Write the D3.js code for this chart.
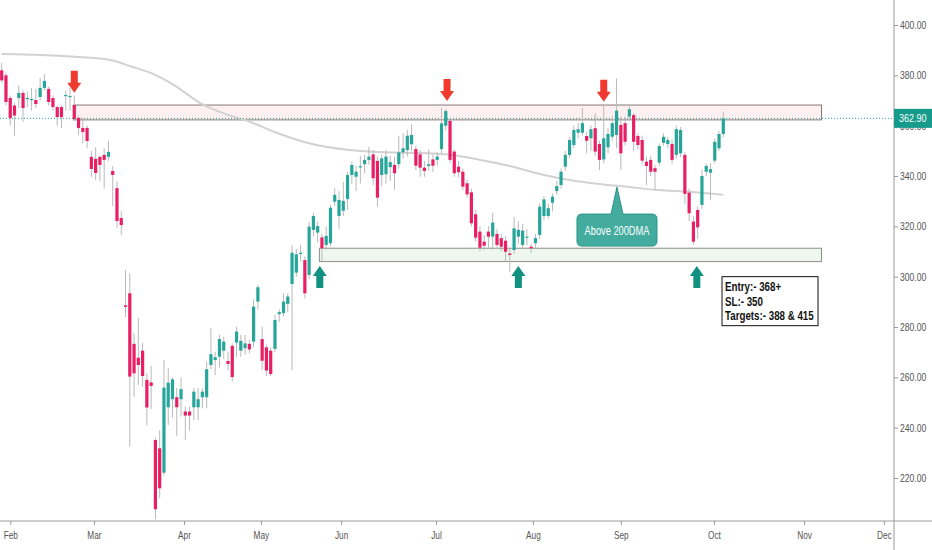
<!DOCTYPE html>
<html>
<head>
<meta charset="utf-8">
<script src="https://cdn.jsdelivr.net/npm/d3@7"></script>
<style>
body{margin:0;background:#fff;}
svg{display:block;}
.axis text{font-family:"Liberation Sans",Arial,sans-serif;font-size:11px;fill:#555;}
.axis line{stroke:#9a9a9a;}
</style>
</head>
<body>
<svg id="chart"></svg>
<script>
// daily candles, [open, high, low, close], bar index = position in the list
var candles = [
  // late Jan / Feb
  [382,385,377,378],[380,381,368,369.4],[371,372,360,363],[368,369,356,364],[371,376,367,373],
  [373,374,361.5,367],[370.6,373.4,367.4,371],[370.2,375,366,370.6],[370.2,374.6,367,368.6],[371.4,379,370,375],
  [375,380.5,374,377.8],[374.6,375.5,368,369.4],[371,372,366,367.4],[367.4,368,360,363.4],[367.4,368,359,363.4],
  [371.8,374,366,372.2],[371.4,375,366,371.8],[368.2,372,362,362.7],[363.1,364,356.3,359.1],[359.1,363,353,357.5],
  [359.1,360,351,353.9],
  // Mar
  [347.6,350,339.7,342.8],[346.8,351.5,338.4,341.2],[347.6,348,338,344.4],[348.4,351,335,346.4],[347.6,354,346,349.6],
  [342,344,328,340.4],[335.2,338,319.3,322.1],[323.3,326,316.5,320.5],[288.6,302.7,284,288],[293.4,301.3,232.5,260.3],
  [273.3,277.5,252.3,261.6],[267.8,283.5,257,264.9],[270.6,273.7,256.3,260.5],[259,261.7,241,248],[258,264.5,247.4,256.6],
  [235.1,236,203.6,207.6],[231.8,239,212,215.9],[222.1,266.9,221,255.9],[248.1,263.6,241,257.9],[251.3,260,244,259.2],
  [252.1,255.7,236.8,248.1],[251.3,260,244.4,255.3],
  // Apr
  [246.4,248.4,235.1,244.8],[246.4,248.4,238.8,244.8],[248.1,255.7,243.1,254.3],[248.1,255.7,243,251.3],[252.1,255.7,247.7,254.3],
  [252.1,266.2,247.7,263.2],[264.9,279.5,263.2,269.2],[266.9,270.2,260.9,268],[268.2,276.8,264,275.2],[270.6,276.2,267.2,274.2],
  [266.5,270.2,262.9,265.3],[272.5,273.5,258.3,260.1],[273.8,280.1,268.2,278.2],[270.6,276.8,268.2,274.5],[271.6,276.8,269,273.5],
  [273.3,275,269.5,271.1],[274.2,291,272,288.1],[290.1,296.7,286.8,295.8],
  // May
  [275.2,280.1,262.9,266.6],[271.9,273,260.5,262.7],[270.6,272,260.6,261.3],[271.3,284.8,270,282.8],[285.1,287,282,285.9],
  [285.5,293.4,284.1,290.1],[289.2,293.4,286,292.1],[297.1,312.6,262.9,309.5],[301.6,311,300,308.9],[309,312.6,306,309.5],
  [306.6,308,291.4,293.4],[300.7,321.8,299,319.9],[318.6,325.4,316,324.1],[317.5,322,313.5,320.1],[315.6,317,306,311.3],
  [312.6,319.9,310.6,316.2],[313.3,328.5,312,327.4],[329.8,335.1,328.1,332.5],[324.1,334,319,330.5],
  // Jun
  [326.2,337.7,324.1,330.1],[330.8,341.7,326.5,340.4],[340.4,345.7,337,344.4],[339.7,344,334,341.7],[343.5,348,337,343.9],
  [344.7,348.5,341,346.4],[346.4,351.6,344.5,347.7],[348.6,350.3,336.4,339.1],[346,347.7,327.8,331.4],[340.4,348.5,336,347],
  [340.7,350.3,337,347.7],[343.5,348,338,345.5],[344.4,347.7,334.5,341.1],[344.7,356,343,349.4],[349.4,357,347,351],
  [350.3,358.3,347.7,356],[352.6,360.5,350,356.3],[350.7,352,342.4,344.1],[348.6,350.3,339.7,343.3],[343.3,346,339.7,342],
  [344,350.5,342,344.7],[346.6,348.6,341.5,344.1],
  // Jul
  [346.4,349.5,344,347.7],[350.7,367.1,349,360.9],[360,366.6,358,365.8],[361.9,363,345,346.4],[349.7,350.5,339.7,341.1],
  [343.7,346,339.5,341.5],[341.7,343,334.5,335.8],[337.1,338.5,331.5,332.7],[333.5,335,320,321.2],[324.8,326.5,314,315.5],
  [317.9,320,310,311.5],[313.9,316.5,310.5,312.3],[317.9,320,311,315.9],[315.9,325.4,310.6,321.5],[317,319,311,312.6],
  [315.3,317,310,311.9],[314.3,316,306,309.9],[309.2,311,302,308.6],[310.6,323.8,309,319.2],[315.9,322,313,318.6],
  [312.6,321,311,318.3],[315.7,319,312.5,315.9],[311.9,313,309.4,311.3],
  // Aug
  [313.3,317,311.5,315.3],[316.6,329.2,315,327.8],[324.1,332,322.5,330.7],[324.1,329,323,327.2],[329.4,333,326,331.8],
  [334,338,332.5,336],[336.4,343,335,341.7],[343.7,350,342,348.4],[348.4,355.5,347,354.3],[352.3,360,351,358.3],
  [357.2,361,355,358.6],[357.2,366.9,356,361],[355.9,357.6,349,354],[355,360,350,358.6],[359,364.9,348,349.7],
  [352.7,354,342.4,346.4],[346.6,368.2,345,355],[351.4,359,349,356.7],[355.6,364,354,361],[356.3,378.8,351,366],
  [360.3,363.6,342.4,349],
  // Sep
  [361,363.6,352,353.6],[363.6,368.2,362,366.5],[364.2,365,350,353.6],[355.9,357,350.5,352.3],[354.3,356,344.5,346.1],
  [345.7,347.7,336.4,344],[346.4,348,340,341.7],[343.1,344.4,334.4,341.7],[345.3,353,344,351.9],[353.2,357,352,355.6],
  [352.7,355.5,351,354.3],[352.7,354.5,345,346.4],[348.4,360,347,358.6],[349,359.5,347.5,358.3],[348.4,349.5,329,332.9],
  [333.4,335,322,325.2],[321.9,324,312.6,313.9],[326.5,328,315,319.6],[328.5,342.4,327,340],[341.7,345,340,344],
  [341.3,345.1,330.5,342.7],[346.1,355,345,353.6],
  // Oct
  [351,358,350,356.7],[356.7,365.6,355.5,362.9]
];

// 200 day moving average, [bar index, value]
var ma200 = [
  [0,388.5],[9,388.1],[18,387.3],[26,385.9],[30,383.7],[35,380.9],[40,376.5],[46.5,369],[53,364.3],
  [58,361.6],[65,356.8],[72,353],[81.5,350.3],[88.5,349.5],[98,349.1],[105,348.4],[112,346.4],
  [119,344],[126,340.8],[133,338.4],[140,336.8],[147,335.6],[154,334.4],[161,333.7],[169,332.5]
];

var monthNames = ["Feb","Mar","Apr","May","Jun","Jul","Aug","Sep","Oct","Nov","Dec"];
var monthStart = [2,21.6,42.7,60.7,79.5,101.7,124.4,145,166.8,187.9,206.6];
var priceTicks = [220,240,260,280,300,320,340,360,380,400];

// zones [from bar, to bar, low, high]
var resistanceZone = [16.8, 192, 362.3, 368.2];
var supportZone = [74.4, 192, 306.0, 311.3];

// arrows [bar, tip price]
var downArrows = [[17,373.1],[104.3,369.8],[141,369.5]];
var upArrows = [[74.5,304.2],[121,304.2],[162.8,304.2]];

var lastPrice = 362.9;
var calloutTip = [144.1, 335.6];
var calloutText = "Above 200DMA";
var planAnchor = [168.7, 300];
var planLines = ["Entry:- 368+", "SL:- 350", "Targets:- 388 & 415"];

var screen = {width:932, height:550};
var axisX = 894, axisY = 521;
var font = '"Liberation Sans",Arial,sans-serif';

var svg = d3.select("#chart")
    .attr("width", screen.width)
    .attr("height", screen.height);

var xScale = d3.scaleLinear()
    .domain([0, candles.length-1])
    .range([1.7, 723.3]);

var yScale = d3.scaleLinear()
    .domain([220, 400])
    .range([478, 25]);

// squeeze text horizontally, the screenshot uses a narrow face
var condense = function(sel, f)
{
    sel.each(function()
    {
        var w = this.getComputedTextLength();
        d3.select(this)
            .attr("textLength", w*f)
            .attr("lengthAdjust", "spacingAndGlyphs");
    });
}

var plot = svg.append("g");

// zones
var drawZone = function(z, fill, stroke)
{
    plot.append("rect")
        .attr("x", xScale(z[0]))
        .attr("y", yScale(z[3]))
        .attr("width", xScale(z[1]) - xScale(z[0]))
        .attr("height", yScale(z[2]) - yScale(z[3]))
        .attr("fill", fill)
        .attr("stroke", stroke)
        .attr("stroke-width", 1);
}
drawZone(resistanceZone, "rgba(242,54,69,0.08)", "#857a7b");
drawZone(supportZone, "rgba(76,175,80,0.09)", "#8a8f8a");

// moving average
var maLine = d3.line()
    .x(function(d){ return xScale(d[0]); })
    .y(function(d){ return yScale(d[1]); })
    .curve(d3.curveMonotoneX);

plot.append("path")
    .datum(ma200)
    .attr("d", maLine)
    .attr("fill", "none")
    .attr("stroke", "#d3d1d1")
    .attr("stroke-width", 2);

// last price line
plot.append("line")
    .attr("x1", 0).attr("x2", axisX)
    .attr("y1", yScale(lastPrice)).attr("y2", yScale(lastPrice))
    .attr("stroke", "#26a69a")
    .attr("stroke-width", 1)
    .attr("stroke-dasharray", "1,2");

// candles
var bars = plot.selectAll("g.candle")
    .data(candles)
    .enter()
    .append("g")
    .classed("candle", true);

bars.append("line")
    .attr("x1", function(d,i){ return xScale(i); })
    .attr("x2", function(d,i){ return xScale(i); })
    .attr("y1", function(d){ return yScale(d[1]); })
    .attr("y2", function(d){ return yScale(d[2]); })
    .attr("stroke", "#b9b9b9")
    .attr("stroke-width", 1);

bars.append("rect")
    .attr("x", function(d,i){ return xScale(i) - 1.6; })
    .attr("width", 3.2)
    .attr("y", function(d){ return yScale(Math.max(d[0], d[3])); })
    .attr("height", function(d){ return Math.max(1.2, Math.abs(yScale(d[0]) - yScale(d[3]))); })
    .attr("fill", function(d){ return d[3] >= d[0] ? "#26a69a" : "#e91e63"; });

// arrows
var arrowPath = function(cx, tip, dir)
{
    // dir 1 = pointing down, -1 = pointing up
    var s = 3.5, h = 7, headLen = 10, total = 22;
    var b = tip - dir*headLen, t = tip - dir*total;
    return "M"+(cx-s)+","+t+"L"+(cx+s)+","+t+"L"+(cx+s)+","+b+"L"+(cx+h)+","+b+
           "L"+cx+","+tip+"L"+(cx-h)+","+b+"L"+(cx-s)+","+b+"Z";
}
plot.selectAll("path.down")
    .data(downArrows)
    .enter()
    .append("path")
    .attr("class", "down")
    .attr("d", function(d){ return arrowPath(xScale(d[0]), yScale(d[1]), 1); })
    .attr("fill", "#ef3b2f");

plot.selectAll("path.up")
    .data(upArrows)
    .enter()
    .append("path")
    .attr("class", "up")
    .attr("d", function(d){ return arrowPath(xScale(d[0]), yScale(d[1]), -1); })
    .attr("fill", "#11917f");

// callout
var tx = xScale(calloutTip[0]), ty = yScale(calloutTip[1]);
var bw = 80, bh = 32, boxTop = ty + 27, r = 5;
var bl = tx - bw/2, br = tx + bw/2, bb = boxTop + bh;
plot.append("path")
    .attr("d", "M"+(bl+r)+","+boxTop+"L"+(tx-6)+","+boxTop+"L"+tx+","+ty+"L"+(tx+6)+","+boxTop+
        "L"+(br-r)+","+boxTop+"Q"+br+","+boxTop+" "+br+","+(boxTop+r)+
        "L"+br+","+(bb-r)+"Q"+br+","+bb+" "+(br-r)+","+bb+
        "L"+(bl+r)+","+bb+"Q"+bl+","+bb+" "+bl+","+(bb-r)+
        "L"+bl+","+(boxTop+r)+"Q"+bl+","+boxTop+" "+(bl+r)+","+boxTop+"Z")
    .attr("fill", "#43ac9f")
    .attr("stroke", "#2b9386")
    .attr("stroke-width", 1);

plot.append("text")
    .text(calloutText)
    .attr("x", tx)
    .attr("y", boxTop + bh/2 + 4.5)
    .attr("text-anchor", "middle")
    .attr("font-family", font)
    .attr("font-size", 12.5)
    .attr("fill", "#fff")
    .call(condense, 0.74);

// trade plan box
var px = xScale(planAnchor[0]), py = yScale(planAnchor[1]);
plot.append("rect")
    .attr("x", px).attr("y", py)
    .attr("width", 96).attr("height", 49)
    .attr("fill", "#fff")
    .attr("stroke", "#111")
    .attr("stroke-width", 1);

plot.selectAll("text.plan")
    .data(planLines)
    .enter()
    .append("text")
    .attr("class", "plan")
    .text(function(d){ return d; })
    .attr("x", px + 3)
    .attr("y", function(d,i){ return py + 14.5 + i*14.5; })
    .attr("font-family", font)
    .attr("font-weight", "bold")
    .attr("font-size", 12.5)
    .attr("fill", "#111")
    .call(condense, 0.78);

// axes
var yAxis = d3.axisRight(yScale)
    .tickValues(priceTicks)
    .tickFormat(d3.format(".2f"))
    .tickSize(4)
    .tickPadding(2);

var yg = svg.append("g")
    .attr("class", "axis")
    .attr("transform", "translate("+axisX+",0)")
    .call(yAxis);
yg.select(".domain").remove();
yg.selectAll("text").call(condense, 0.78);

var xAxis = d3.axisBottom(xScale)
    .tickValues(monthStart)
    .tickFormat(function(d,i){ return monthNames[i]; })
    .tickSize(4)
    .tickPadding(6);

var xg = svg.append("g")
    .attr("class", "axis")
    .attr("transform", "translate(0,"+axisY+")")
    .call(xAxis);
xg.select(".domain").remove();
xg.selectAll("text").call(condense, 0.75);

svg.append("line")
    .attr("x1", 0).attr("x2", screen.width)
    .attr("y1", axisY).attr("y2", axisY)
    .attr("stroke", "#9a9a9a");

svg.append("line")
    .attr("x1", axisX).attr("x2", axisX)
    .attr("y1", 0).attr("y2", screen.height)
    .attr("stroke", "#9a9a9a");

// last price label
var lp = yScale(lastPrice);
svg.append("rect")
    .attr("x", axisX).attr("y", lp - 9.5)
    .attr("width", screen.width - axisX).attr("height", 19)
    .attr("fill", "#159a8b");

svg.append("text")
    .text(d3.format(".2f")(lastPrice))
    .attr("x", axisX + 5)
    .attr("y", lp + 4)
    .attr("font-family", font)
    .attr("font-size", 11.5)
    .attr("fill", "#fff")
    .call(condense, 0.78);
</script>
</body>
</html>
